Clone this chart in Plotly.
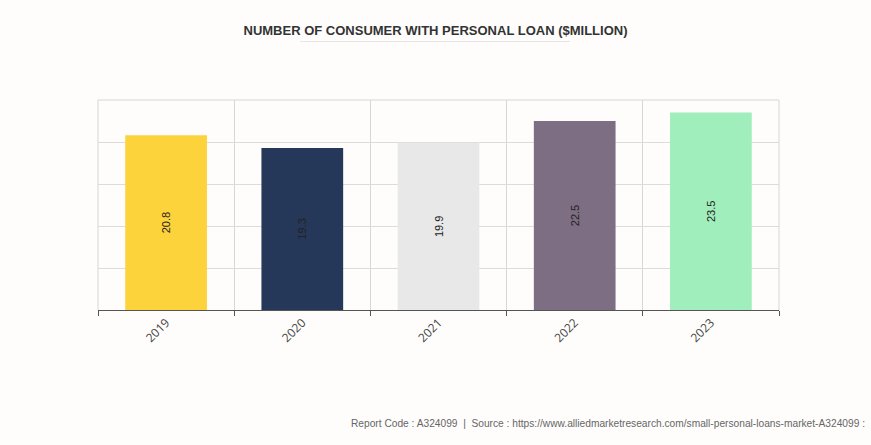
import plotly.graph_objects as go

years = ["2019", "2020", "2021", "2022", "2023"]
values = [20.8, 19.3, 19.9, 22.5, 23.5]
colors = ["#FDD33B", "#263859", "#E8E8E8", "#7D6E83", "#A0EEBB"]

fig = go.Figure()
fig.add_trace(go.Bar(
    x=years, y=values,
    marker=dict(color=colors, line=dict(width=0)),
    width=0.6,
    text=[f"{v}" for v in values],
    textposition="inside",
    insidetextanchor="middle",
    textangle=-90,
    textfont=dict(family="Liberation Sans, Arial", size=11, color="#222222"),
    hoverinfo="x+y",
))

fig.update_layout(
    width=871, height=445,
    paper_bgcolor="#FEFDFC",
    plot_bgcolor="#FEFDFC",
    margin=dict(l=98, r=92, t=100, b=135),
    showlegend=False,
    title=dict(
        text="<b>NUMBER OF CONSUMER WITH PERSONAL LOAN ($MILLION)</b>",
        x=0.5, xanchor="center", y=0.932, yanchor="middle",
        font=dict(family="Liberation Sans, Arial", size=13, color="#333333"),
    ),
    xaxis=dict(
        type="category",
        tickson="boundaries",
        showgrid=True, gridcolor="#D6D6D6", gridwidth=1,
        showline=True, linecolor="#555555", linewidth=1,
        ticks="outside", ticklen=5, tickcolor="#555555",
        tickangle=-45,
        tickfont=dict(family="Open Sans, Liberation Sans", size=12, color="#444444"),
        mirror=False,
    ),
    yaxis=dict(
        range=[0, 25], dtick=5,
        showgrid=True, gridcolor="#DCDCDC", gridwidth=1,
        showticklabels=False, zeroline=False,
        showline=False,
    ),
    shapes=[
        dict(type="line", xref="paper", yref="paper", x0=0, x1=1, y0=1, y1=1,
             line=dict(color="#D6D6D6", width=1)),
        dict(type="line", xref="paper", yref="paper", x0=1, x1=1, y0=0, y1=1,
             line=dict(color="#D6D6D6", width=1)),
        dict(type="line", xref="paper", yref="paper", x0=0, x1=0, y0=0, y1=1,
             line=dict(color="#D6D6D6", width=1)),
        dict(type="line", xref="paper", yref="paper",
             x0=(300 - 98) / 681, x1=(570 - 98) / 681,
             y0=(310 - 41.5) / 210, y1=(310 - 41.5) / 210,
             line=dict(color="#E6E6E6", width=1)),
    ],
    annotations=[
        dict(text="Report Code : A324099  |  Source : https://www.alliedmarketresearch.com/small-personal-loans-market-A324099 :",
             xref="paper", yref="paper",
             x=(867 - 98) / 681, y=-(423 - 310) / 210,
             xanchor="right", yanchor="middle", showarrow=False,
             font=dict(family="Liberation Sans, Arial", size=10.2, color="#666666")),
    ],
)

fig.write_html(
    "out.html",
    config={"displayModeBar": False},
    post_script="document.body.style.margin='0';document.body.style.overflow='hidden';document.body.style.background='#FEFDFC';",
)
